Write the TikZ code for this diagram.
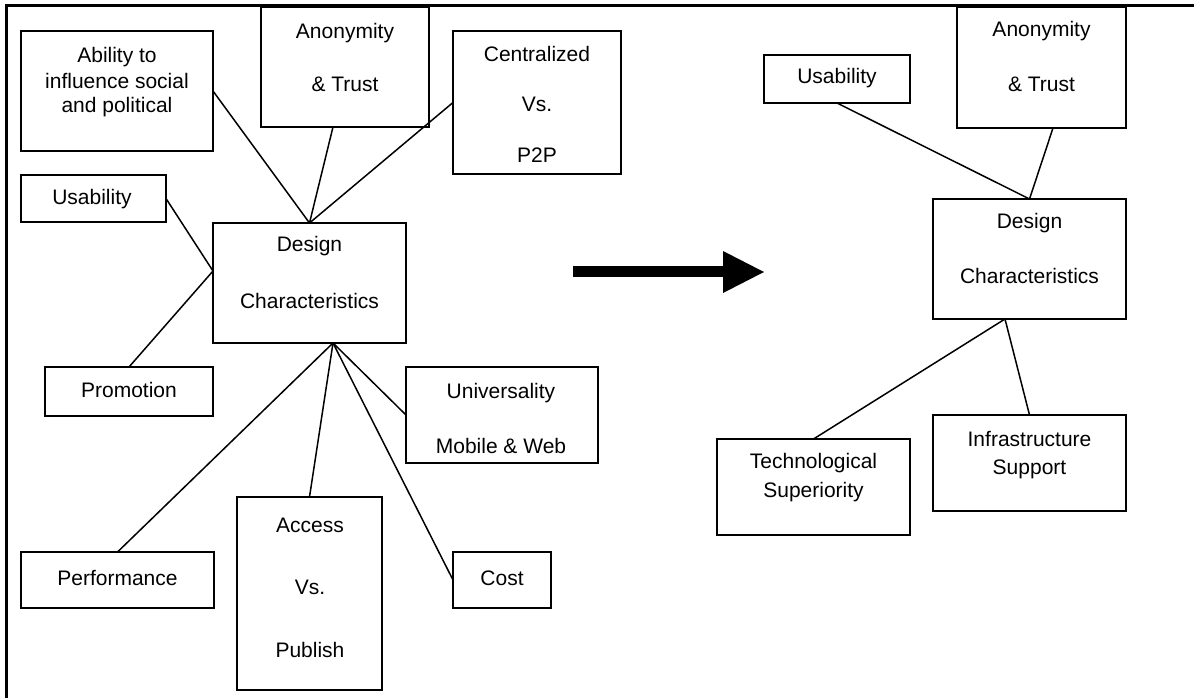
\documentclass[tikz,border=0pt]{standalone}
\usepackage{fontspec}
\setmainfont{Liberation Sans}
\begin{document}
\begin{tikzpicture}[x=1pt,y=-1pt,
  box/.style={draw, line width=1.5pt, inner sep=0pt, outer sep=0pt},
  lbl/.style={anchor=base, inner sep=0pt, font=\fontsize{21}{25}\selectfont},
  link/.style={line width=1.5pt},
  frameline/.style={line width=2.4pt, line join=miter}]
\useasboundingbox (0,0) rectangle (1194,698);

% page frame (left and top rules)
\coordinate (fa) at (6.5,698);
\coordinate (fb) at (6.5,5.5);
\coordinate (fc) at (1194,5.5);
\draw[frameline] (fa) -- (fb) -- (fc);

% ---------- left diagram ----------
\node[box, minimum width=192pt, minimum height=120pt] (ab) at (117,91) {};
\node[lbl] (ab1) at (117,63) {Ability to};
\node[lbl] (ab2) at (117,89) {influence social};
\node[lbl] (ab3) at (117,113) {and political};

\node[box, minimum width=168pt, minimum height=120pt] (an) at (345,67) {};
\node[lbl] (an1) at (345,38.5) {Anonymity};
\node[lbl] (an2) at (345,92) {\& Trust};

\node[box, minimum width=168pt, minimum height=143pt] (cv) at (537,102.5) {};
\node[lbl] (cv1) at (537,61.5) {Centralized};
\node[lbl] (cv2) at (537,112) {Vs.};
\node[lbl] (cv3) at (537,163) {P2P};

\node[box, minimum width=145pt, minimum height=47pt] (ul) at (93.5,198.5) {};
\node[lbl] (ul1) at (92,204) {Usability};

\node[box, minimum width=193pt, minimum height=120pt] (dl) at (309.5,283) {};
\node[lbl] (dl1) at (309.5,251) {Design};
\node[lbl] (dl2) at (309.5,308) {Characteristics};

\node[box, minimum width=168pt, minimum height=49pt] (pr) at (129,391.5) {};
\node[lbl] (pr1) at (129,397) {Promotion};

\node[box, minimum width=192pt, minimum height=96pt] (un) at (502,415) {};
\node[lbl] (un1) at (501,398) {Universality};
\node[lbl] (un2) at (501,453) {Mobile \& Web};

\node[box, minimum width=193pt, minimum height=56pt] (pf) at (117.5,580) {};
\node[lbl] (pf1) at (117.5,585) {Performance};

\node[box, minimum width=145pt, minimum height=193pt] (ac) at (309.5,593.5) {};
\node[lbl] (ac1) at (310,532) {Access};
\node[lbl] (ac2) at (310,594) {Vs.};
\node[lbl] (ac3) at (310,657) {Publish};

\node[box, minimum width=98pt, minimum height=56pt] (co) at (502,580) {};
\node[lbl] (co1) at (502,585) {Cost};

\draw[link] (ab.east) -- (dl.north);
\draw[link] ([xshift=-12pt]an.south) -- (dl.north);
\draw[link] (cv.west) -- (dl.north);
\draw[link] (ul.east) -- ([yshift=12pt]dl.west);
\draw[link] (pr.north) -- ([yshift=12pt]dl.west);
\draw[link] ([xshift=23.5pt]dl.south) -- (pf.north);
\draw[link] ([xshift=23.5pt]dl.south) -- (ac.north);
\draw[link] ([xshift=23.5pt]dl.south) -- (co.west);
\draw[link] ([xshift=23.5pt]dl.south) -- (un.west);

% ---------- transition arrow ----------
\coordinate (atail) at (573,271.5);
\coordinate (aneck) at (723.5,271.5);
\coordinate (htop) at (723,251);
\coordinate (htip) at (764,272);
\coordinate (hbot) at (723,293);
\draw[line width=11pt] (atail) -- (aneck);
\fill (htop) -- (htip) -- (hbot) -- cycle;

% ---------- right diagram ----------
\node[box, minimum width=146pt, minimum height=48pt] (ur) at (837,79) {};
\node[lbl] (ur1) at (837,84) {Usability};

\node[box, minimum width=169pt, minimum height=121pt] (ar) at (1041.5,67.5) {};
\node[lbl] (ar1) at (1041.5,37) {Anonymity};
\node[lbl] (ar2) at (1041.5,92) {\& Trust};

\node[box, minimum width=193pt, minimum height=120pt] (dr) at (1029.5,259) {};
\node[lbl] (dr1) at (1029.5,228) {Design};
\node[lbl] (dr2) at (1029.5,283) {Characteristics};

\node[box, minimum width=193pt, minimum height=96pt] (te) at (813.5,487) {};
\node[lbl] (te1) at (813.5,468) {Technological};
\node[lbl] (te2) at (813.5,497) {Superiority};

\node[box, minimum width=193pt, minimum height=96pt] (in) at (1029.5,463) {};
\node[lbl] (in1) at (1029.5,446) {Infrastructure};
\node[lbl] (in2) at (1029.5,474) {Support};

\draw[link] (ur.south) -- (dr.north);
\draw[link] ([xshift=11.5pt]ar.south) -- (dr.north);
\draw[link] ([xshift=-24.5pt]dr.south) -- (te.north);
\draw[link] ([xshift=-24.5pt]dr.south) -- (in.north);
\end{tikzpicture}
\end{document}
